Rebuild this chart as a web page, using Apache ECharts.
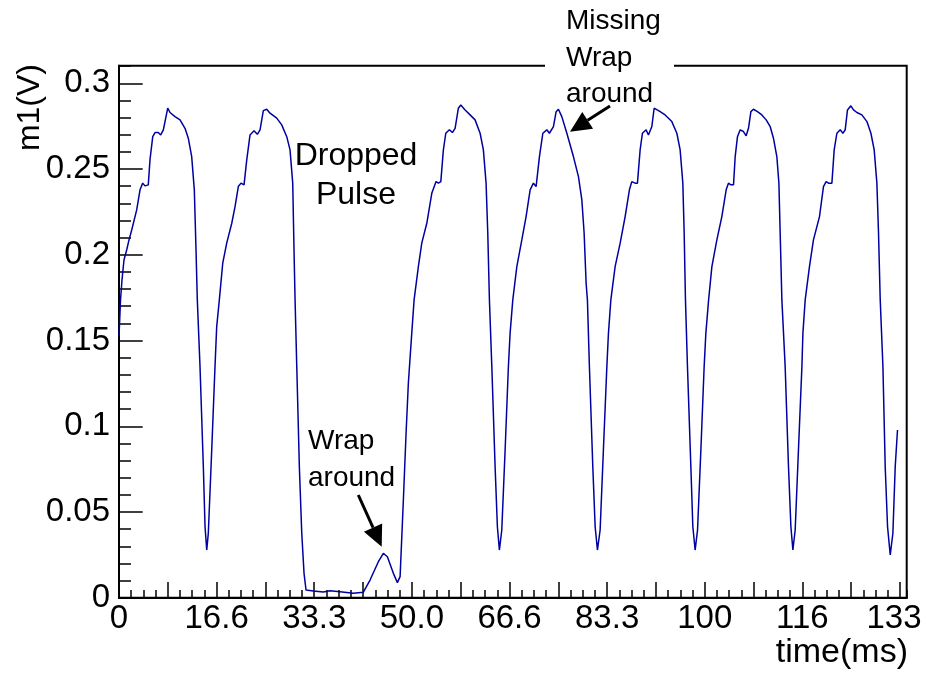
<!DOCTYPE html>
<html><head><meta charset="utf-8">
<script src="https://cdn.jsdelivr.net/npm/echarts@6/dist/echarts.min.js"></script>
<style>html,body{margin:0;padding:0;background:#fff}#c{width:926px;height:677px}</style>
</head><body><div id="c"></div>
<script>
// time in ms
const timeMs = [
 0,0.26,0.51,0.85,1.31,1.71,2.17,3.02,3.59,4.05,4.44,5.00,5.29,5.76,6.15,6.71,7.12,7.57,8.32,8.71,9.56,10.42,11.27,11.83,12.41,12.86,13.15,13.37,13.83,14.40,14.69,14.98,15.25,15.83,16.39,16.68,17.13,
 17.71,18.39,19.25,19.81,20.37,20.83,21.35,21.81,22.37,23.05,23.62,24.08,24.64,25.22,25.79,26.93,27.78,28.64,29.20,29.66,29.88,30.06,30.35,30.79,31.20,31.59,31.93,
 33.18,34.89,36.03,37.74,40.01,40.87,41.72,
 42.86,44.28,45.13,45.82,46.84,47.53,47.99,48.55,49.01,49.40,49.98,50.38,
 51.11,51.69,52.55,53.40,54.13,54.53,54.94,55.38,55.79,56.41,56.92,57.38,57.94,58.35,59.09,59.94,60.79,61.65,62.21,62.67,62.96,63.24,63.65,64.21,64.60,64.94,65.35,65.92,66.48,66.77,67.23,
 67.92,68.77,69.50,70.19,70.75,71.21,71.78,72.36,73.04,73.48,74.17,74.63,75.02,75.60,76.46,77.58,78.44,79.02,79.41,79.75,79.97,80.31,80.89,81.29,81.68,82.14,82.70,83.29,83.56,83.97,
 84.70,85.56,86.41,87.14,87.55,88.12,88.51,88.97,89.36,89.99,90.39,90.97,91.36,91.70,92.39,93.24,94.38,95.24,95.80,96.26,96.49,96.71,97.05,97.63,97.97,98.36,98.77,99.34,99.90,100.19,100.66,
 101.22,102.07,102.92,103.66,104.05,104.46,104.91,105.20,105.59,106.05,106.61,107.07,107.47,107.88,108.32,109.00,109.75,110.49,111.17,111.73,112.31,112.66,112.88,113.17,113.73,114.30,114.71,115.05,115.44,116.00,116.59,116.76,117.15,
 117.88,118.56,119.59,120.27,120.73,121.13,121.71,122.10,122.56,123.13,123.59,123.98,124.37,124.95,125.40,125.98,126.83,127.69,128.37,128.93,129.39,129.67,129.96,130.42,130.81,131.21,131.67,132.12,132.52,132.91
];
// m1 in volts
const voltage = [
 0.1523,0.1737,0.1853,0.1970,0.2028,0.2087,0.2145,0.2262,0.2379,0.2418,0.2402,0.2408,0.2554,0.2689,0.2713,0.2713,0.2699,0.2729,0.2855,0.2830,0.2806,0.2787,0.2738,0.2680,0.2573,0.2379,0.2028,0.1737,0.1348,0.0764,0.0414,0.0278,0.0377,0.0862,0.1348,0.1581,0.1737,
 0.1951,0.2068,0.2184,0.2281,0.2398,0.2418,0.2408,0.2554,0.2699,0.2723,0.2703,0.2729,0.2841,0.2849,0.2826,0.2797,0.2758,0.2689,0.2612,0.2418,0.2028,0.1737,0.1348,0.0764,0.0377,0.0142,0.0045,
 0.0039,0.0033,0.0041,0.0035,0.0026,0.0029,0.0032,
 0.0103,0.0210,0.0259,0.0239,0.0142,0.0088,0.0123,0.0570,0.0959,0.1251,0.1542,0.1737,
 0.1931,0.2068,0.2184,0.2359,0.2427,0.2418,0.2427,0.2612,0.2709,0.2729,0.2713,0.2738,0.2855,0.2874,0.2845,0.2816,0.2787,0.2709,0.2612,0.2418,0.2126,0.1737,0.1348,0.0764,0.0414,0.0278,0.0395,0.0862,0.1348,0.1542,0.1737,
 0.1931,0.2087,0.2223,0.2379,0.2418,0.2398,0.2573,0.2709,0.2729,0.2709,0.2748,0.2835,0.2849,0.2806,0.2709,0.2573,0.2456,0.2320,0.2126,0.1834,0.1737,0.1348,0.0764,0.0414,0.0278,0.0395,0.0862,0.1348,0.1542,0.1737,
 0.1931,0.2068,0.2223,0.2379,0.2427,0.2418,0.2418,0.2612,0.2709,0.2729,0.2699,0.2748,0.2855,0.2864,0.2835,0.2816,0.2777,0.2709,0.2612,0.2418,0.2126,0.1737,0.1348,0.0764,0.0414,0.0278,0.0395,0.0862,0.1348,0.1542,0.1737,
 0.1931,0.2087,0.2223,0.2379,0.2418,0.2408,0.2408,0.2573,0.2689,0.2729,0.2719,0.2694,0.2738,0.2835,0.2849,0.2835,0.2816,0.2787,0.2748,0.2680,0.2573,0.2418,0.2126,0.1737,0.1348,0.0764,0.0414,0.0278,0.0395,0.0862,0.1348,0.1542,0.1737,
 0.1931,0.2087,0.2223,0.2398,0.2427,0.2418,0.2418,0.2612,0.2709,0.2729,0.2709,0.2729,0.2845,0.2869,0.2845,0.2830,0.2816,0.2777,0.2709,0.2612,0.2418,0.2126,0.1737,0.1348,0.0764,0.0414,0.0249,0.0376,0.0764,0.0978
];
const xTickLabels = ['0','16.6','33.3','50.0','66.6','83.3','100','116','133'];
const yTickLabels = ['0','0.05','0.1','0.15','0.2','0.25','0.3'];
const xLabelStep = 50 / 3;
const xMajorStep = 25 / 3;
const xMax = 134.48;
const yStep = 0.05;
const yMax = 0.3103;
const xTitle = 'time(ms)';
const yTitle = 'm1(V)';

const FONT = '"Liberation Sans", Arial, Helvetica, sans-serif';
const chart = echarts.init(document.getElementById('c'), null, {renderer: 'canvas'});

function txt(x, y, s, size, align) {
  return {type: 'text', x: x, y: y, z: 102,
    style: {text: s, fontSize: size, fontFamily: FONT, fill: '#000',
      align: align, textAlign: align, verticalAlign: 'middle', textVerticalAlign: 'middle'}};
}
function arrow(x1, y1, x2, y2, headLen, halfW) {
  const dx = x2 - x1, dy = y2 - y1, L = Math.hypot(dx, dy);
  const ux = dx / L, uy = dy / L;
  const bx = x2 - headLen * ux, by = y2 - headLen * uy;
  const nx = -uy * halfW, ny = ux * halfW;
  return [
    {type: 'line', z: 102, shape: {x1: x1, y1: y1, x2: bx, y2: by}, style: {stroke: '#000', lineWidth: 3}},
    {type: 'polygon', z: 102, shape: {points: [[x2, y2], [bx + nx, by + ny], [bx - nx, by - ny]]}, style: {fill: '#000'}}
  ];
}

const option = {
  animation: false,
  backgroundColor: '#fff',
  grid: {left: 119, right: 19.3, top: 65.7, bottom: 79.3, show: true, borderColor: '#000', borderWidth: 2,
    backgroundColor: 'transparent', containLabel: false, outerBoundsMode: 'none'},
  xAxis: [{
    type: 'value', min: 0, max: xMax, interval: xMajorStep,
    axisLine: {show: true, onZero: false, lineStyle: {color: '#000', width: 2}},
    axisTick: {show: true, inside: true, length: 15.7, lineStyle: {color: '#000', width: 1.5}},
    axisLabel: {show: true, margin: 5, fontSize: 33, fontFamily: FONT, color: '#000', showMaxLabel: false,
      rich: {e: {fontSize: 33, fontFamily: FONT, color: '#000', padding: [0, 12, 0, 0]}},
      formatter: function (v) {
        const k = Math.round(v / xLabelStep);
        if (!(Math.abs(v - k * xLabelStep) < 1e-3 && k < xTickLabels.length)) return '';
        return k === xTickLabels.length - 1 ? '{e|' + xTickLabels[k] + '}' : xTickLabels[k];
      }},
    splitLine: {show: false}
  }, {
    type: 'value', min: 0, max: xMax, interval: xMajorStep / 4, position: 'bottom',
    axisLine: {show: false, onZero: false},
    axisTick: {show: true, inside: true, length: 7.8, lineStyle: {color: '#000', width: 1.5}},
    axisLabel: {show: false}, splitLine: {show: false}
  }],
  yAxis: [{
    type: 'value', min: 0, max: yMax, interval: yStep,
    axisLine: {show: true, onZero: false, lineStyle: {color: '#000', width: 2}},
    axisTick: {show: true, inside: true, length: 23.7, lineStyle: {color: '#000', width: 1.5}},
    axisLabel: {show: true, margin: 9, fontSize: 33, fontFamily: FONT, color: '#000', showMaxLabel: false,
      formatter: function (v) {
        const k = Math.round(v / yStep);
        return (Math.abs(v - k * yStep) < 1e-6 && k < yTickLabels.length) ? yTickLabels[k] : '';
      }},
    splitLine: {show: false}
  }, {
    type: 'value', min: 0, max: yMax, interval: yStep / 5, position: 'left',
    axisLine: {show: false, onZero: false},
    axisTick: {show: true, inside: true, length: 12, lineStyle: {color: '#000', width: 1.5}},
    axisLabel: {show: false}, splitLine: {show: false}
  }],
  series: [{
    type: 'line', xAxisIndex: 0, yAxisIndex: 0,
    data: timeMs.map((t, i) => [t, voltage[i]]),
    showSymbol: false, symbol: 'none', smooth: false,
    lineStyle: {color: '#0000a0', width: 1.5}
  }],
  graphic: {elements: [
    {type: 'rect', z: 100, shape: {x: 545, y: 0, width: 129, height: 104}, style: {fill: '#fff'}},
    txt(566, 21.5, 'Missing', 28, 'left'),
    txt(566, 58, 'Wrap', 28, 'left'),
    txt(566, 94, 'around', 28, 'left'),
    txt(356, 156, 'Dropped', 32, 'center'),
    txt(356, 195, 'Pulse', 32, 'center'),
    txt(308, 441, 'Wrap', 28, 'left'),
    txt(308, 478.5, 'around', 28, 'left'),
    txt(908, 653, xTitle, 34, 'right'),
    Object.assign(txt(30, 64, yTitle, 32, 'right'), {rotation: Math.PI / 2}),
    ...arrow(358.3, 495, 381.7, 546.7, 21, 10),
    ...arrow(610, 106, 570, 131.7, 21, 10)
  ]}
};
chart.setOption(option);
</script></body></html>
